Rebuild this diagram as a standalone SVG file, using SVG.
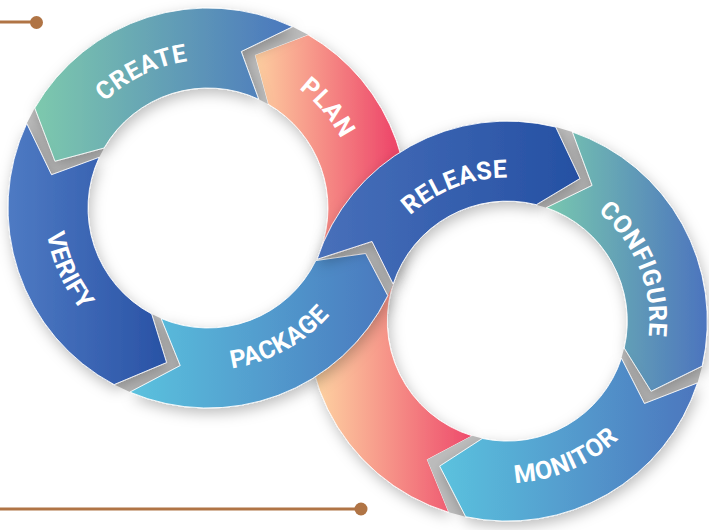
<svg xmlns="http://www.w3.org/2000/svg" width="709" height="530" viewBox="0 0 709 530">
  <defs>
    <filter id="sh" filterUnits="userSpaceOnUse" x="-30" y="-30" width="770" height="590">
      <feGaussianBlur in="SourceAlpha" stdDeviation="7"/>
      <feOffset dx="2" dy="5" result="b"/>
      <feFlood flood-color="#000" flood-opacity="0.26"/>
      <feComposite in2="b" operator="in"/>
      <feMerge><feMergeNode/><feMergeNode in="SourceGraphic"/></feMerge>
    </filter>
    <linearGradient id="gCreate" gradientUnits="userSpaceOnUse" x1="35" y1="0" x2="292" y2="0"><stop offset="0" stop-color="#7DC9AD"/><stop offset="1" stop-color="#4A77BE"/></linearGradient>
    <linearGradient id="gPlan" gradientUnits="userSpaceOnUse" x1="255" y1="0" x2="392" y2="0"><stop offset="0" stop-color="#FDCFA0"/><stop offset="1" stop-color="#EE4A6B"/></linearGradient>
    <linearGradient id="gPink2" gradientUnits="userSpaceOnUse" x1="320" y1="0" x2="472" y2="0"><stop offset="0" stop-color="#FDCFA0"/><stop offset="1" stop-color="#EE4A6B"/></linearGradient>
    <linearGradient id="gVerify" gradientUnits="userSpaceOnUse" x1="10" y1="0" x2="167" y2="0"><stop offset="0" stop-color="#4E7AC3"/><stop offset="1" stop-color="#2952A5"/></linearGradient>
    <linearGradient id="gPackage" gradientUnits="userSpaceOnUse" x1="130" y1="0" x2="390" y2="0"><stop offset="0" stop-color="#5BC2DE"/><stop offset="1" stop-color="#4A78BE"/></linearGradient>
    <linearGradient id="gRelease" gradientUnits="userSpaceOnUse" x1="317" y1="0" x2="580" y2="0"><stop offset="0" stop-color="#4870BA"/><stop offset="1" stop-color="#2550A3"/></linearGradient>
    <linearGradient id="gConfigure" gradientUnits="userSpaceOnUse" x1="546" y1="0" x2="707" y2="0"><stop offset="0" stop-color="#78C8AF"/><stop offset="1" stop-color="#4C74BE"/></linearGradient>
    <linearGradient id="gMonitor" gradientUnits="userSpaceOnUse" x1="440" y1="0" x2="700" y2="0"><stop offset="0" stop-color="#5BC2DE"/><stop offset="1" stop-color="#4C75BD"/></linearGradient>
    <path id="tCreate" d="M65.73,248.79 A148,148 0 0 1 327.73,121.01"/>
    <path id="tPlan" d="M133,78.10 A150,150 0 0 1 322.91,304.42"/>
    <path id="tVerify" d="M116.58,73.05 A163,163 0 0 0 247.71,366.09"/>
    <path id="tPackage" d="M81.39,309.07 A162,162 0 0 0 361.54,156.33"/>
    <path id="tRelease" d="M366.53,348.97 A143.5,143.5 0 0 1 630.05,246.76"/>
    <path id="tConfigure" d="M477.53,182.26 A142,142 0 0 1 582.76,441.39"/>
    <path id="tMonitor" d="M371.74,409.80 A162,162 0 0 0 665.02,284.11"/>
  </defs>
  <style>
    .seg { filter: url(#sh); stroke: #ffffff; stroke-width: 1; stroke-opacity: 0.85; stroke-linejoin: round; }
    .gap { fill: #bcbcbc; }
    .lbl { font-family: Roboto, "Liberation Sans", sans-serif; font-weight: 700; font-size: 25px; fill: #ffffff; letter-spacing: 0.5px; }
    .deco { stroke: #B07445; stroke-width: 3; fill: none; }
    .dot { fill: #B07445; }
  </style>
  <rect width="709" height="530" fill="#ffffff"/>

  <g id="decor-lines">
    <line class="deco" x1="0" y1="22" x2="36" y2="22"/>
    <circle class="dot" cx="36.5" cy="22.5" r="6.5"/>
    <line class="deco" x1="0" y1="509" x2="361" y2="509"/>
    <circle class="dot" cx="361" cy="509" r="6.5"/>
  </g>

  <g id="node-plan">
    <path class="seg" fill="url(#gPink2)" d="M448.83,512.36 A200,200 0 0 1 320.21,250.41 L395.05,278.68 A120,120 0 0 0 472.22,435.86 L427.3,459.66 Z"/>
    <path class="seg" fill="url(#gPlan)" d="M395.09,278.69 A200,200 0 0 0 308,34.79 L254.78,54.99 L268,104.08 A120,120 0 0 1 320.25,250.42 Z"/>
    <text class="lbl"><textPath href="#tPlan" startOffset="50%" text-anchor="middle">PLAN</textPath></text>
  </g>

  <g id="connectors">
    <polygon class="gap" points="292.52,26.74 241.27,51.5 258.71,99.24 268,104.08 254.78,54.99 308,34.79"/>
    <polygon class="gap" points="26.74,123.48 51.5,174.73 99.24,157.29 104.08,148 54.99,161.22 34.79,108"/>
    <polygon class="gap" points="129.85,392.1 180.22,365.57 161.11,318.46 151.66,313.95 166.59,362.55 114.11,384.59"/>
    <polygon class="gap" points="317.09,259.3 372.02,241.42 393.17,284.02 387.76,295.67 365.59,253.51 315.85,260.6"/>
    <polygon class="gap" points="572.41,132 592.09,185.41 546.37,207.64 536.33,204.66 579.94,178.54 555.68,127.04"/>
    <polygon class="gap" points="697.51,382.9 644.45,403.51 621.43,358.18 624.22,348.09 651.11,391.24 702.17,366.09"/>
    <polygon class="gap" points="448.83,512.36 427.3,459.66 472.22,435.86 482.35,438.48 439.68,466.11 465.72,516.73"/>
  </g>

  <g id="node-create">
    <path class="seg" fill="url(#gCreate)" d="M292.52,26.74 A200,200 0 0 0 34.79,108 L54.99,161.22 L104.08,148 A120,120 0 0 1 258.71,99.24 L241.27,51.5 Z"/>
    <text class="lbl"><textPath href="#tCreate" startOffset="50%" text-anchor="middle">CREATE</textPath></text>
  </g>

  <g id="node-verify">
    <path class="seg" fill="url(#gVerify)" d="M26.74,123.48 A200,200 0 0 0 114.11,384.59 L166.59,362.55 L151.66,313.95 A120,120 0 0 1 99.24,157.29 L51.5,174.73 Z"/>
    <text class="lbl"><textPath href="#tVerify" startOffset="50%" text-anchor="middle">VERIFY</textPath></text>
  </g>

  <g id="node-package">
    <path class="seg" fill="url(#gPackage)" d="M129.85,392.1 A200,200 0 0 0 387.76,295.67 L365.59,253.51 L315.85,260.6 A120,120 0 0 1 161.11,318.46 L180.22,365.57 Z"/>
    <text class="lbl"><textPath href="#tPackage" startOffset="50%" text-anchor="middle">PACKAGE</textPath></text>
  </g>

  <g id="node-release">
    <path class="seg" fill="url(#gRelease)" d="M317.09,259.3 A200,200 0 0 1 555.68,127.04 L579.94,178.54 L536.33,204.66 A120,120 0 0 0 393.17,284.02 L372.02,241.42 Z"/>
    <text class="lbl"><textPath href="#tRelease" startOffset="50%" text-anchor="middle">RELEASE</textPath></text>
  </g>

  <g id="node-configure">
    <path class="seg" fill="url(#gConfigure)" d="M572.41,132 A200,200 0 0 1 702.17,366.09 L651.11,391.24 L624.22,348.09 A120,120 0 0 0 546.37,207.64 L592.09,185.41 Z"/>
    <text class="lbl"><textPath href="#tConfigure" startOffset="50%" text-anchor="middle">CONFIGURE</textPath></text>
  </g>

  <g id="node-monitor">
    <path class="seg" fill="url(#gMonitor)" d="M697.51,382.9 A200,200 0 0 1 465.72,516.73 L439.68,466.11 L482.35,438.48 A120,120 0 0 0 621.43,358.18 L644.45,403.51 Z"/>
    <text class="lbl"><textPath href="#tMonitor" startOffset="50%" text-anchor="middle">MONITOR</textPath></text>
  </g>
</svg>
